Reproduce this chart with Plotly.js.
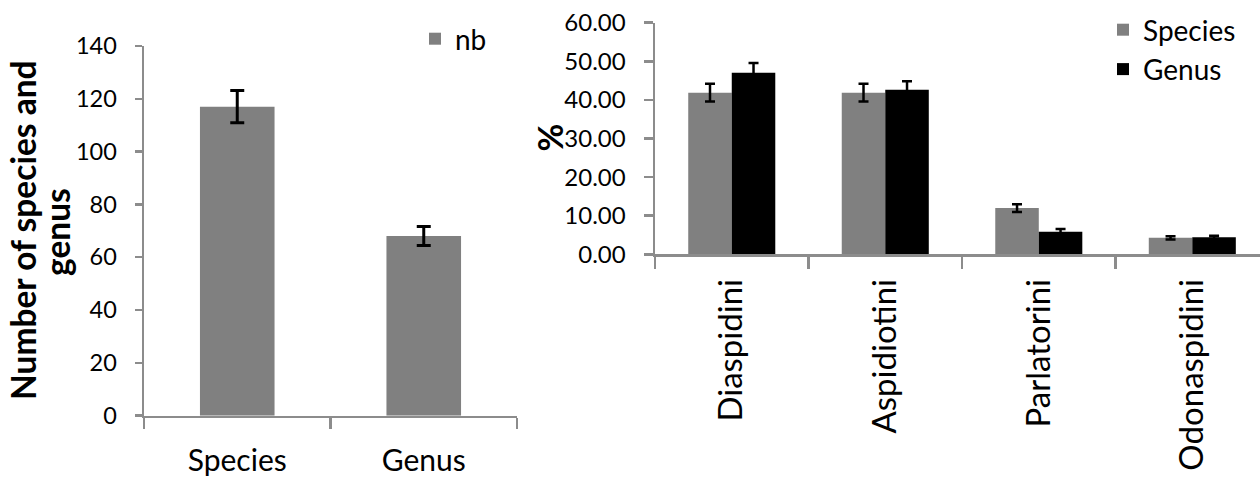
<!DOCTYPE html>
<html>
<head>
<meta charset="utf-8">
<script src="https://cdn.plot.ly/plotly-3.0.1.min.js"></script>
<style>html,body{margin:0;padding:0;background:#fff;}#chart{width:1260px;height:480px;}</style>
</head>
<body>
<div id="chart"></div>
<script>
// Left panel
const leftCategories = ["Species", "Genus"];
const leftValues = [117, 68];
const leftErrors = [6.1, 3.6];
const leftSeriesName = "nb";

// Right panel
const tribes = ["Diaspidini", "Aspidiotini", "Parlatorini", "Odonaspidini"];
const speciesPct = [41.88, 41.88, 11.97, 4.27];
const speciesErr = [2.3, 2.3, 1.0, 0.4];
const genusPct = [47.06, 42.65, 5.88, 4.41];
const genusErr = [2.5, 2.2, 0.7, 0.4];

const FONT = "Lato, 'Open Sans', sans-serif";
const GRAY = "#808080";
const AXIS = "#8c8c8c";

const traces = [
  {
    type: "bar", x: leftCategories, y: leftValues, name: leftSeriesName,
    xaxis: "x", yaxis: "y", width: 0.4, legend: "legend",
    marker: {color: GRAY},
    error_y: {type: "data", array: leftErrors, visible: true, color: "#000", thickness: 3, width: 7}
  },
  {
    type: "bar", x: tribes, y: speciesPct, name: "Species",
    xaxis: "x2", yaxis: "y2", legend: "legend2",
    marker: {color: GRAY},
    error_y: {type: "data", array: speciesErr, visible: true, color: "#000", thickness: 2.5, width: 5}
  },
  {
    type: "bar", x: tribes, y: genusPct, name: "Genus",
    xaxis: "x2", yaxis: "y2", legend: "legend2",
    marker: {color: "#000"},
    error_y: {type: "data", array: genusErr, visible: true, color: "#000", thickness: 2.5, width: 5}
  }
];

const axisCommon = {
  showline: true, linecolor: AXIS, linewidth: 2.5, showgrid: false, zeroline: false,
  ticks: "outside", tickcolor: AXIS, tickwidth: 2.5, fixedrange: true
};

const layout = {
  width: 1260, height: 480,
  margin: {l: 0, r: 0, t: 0, b: 0},
  paper_bgcolor: "#fff", plot_bgcolor: "#fff",
  font: {family: FONT, color: "#000"},
  barmode: "group", bargap: 0.433, bargroupgap: 0,
  showlegend: true,
  xaxis: Object.assign({}, axisCommon, {
    domain: [144/1260, 517/1260], anchor: "y", type: "category",
    tickson: "boundaries", ticklen: 11, ticklabelstandoff: 17,
    tickfont: {family: FONT, size: 30, color: "#000"}
  }),
  yaxis: Object.assign({}, axisCommon, {
    domain: [64.33/480, 434/480], anchor: "x", range: [0, 140], dtick: 20, tick0: 0,
    ticklen: 7, ticklabelstandoff: 13,
    tickfont: {family: FONT, size: 23.5, color: "#000"}
  }),
  xaxis2: Object.assign({}, axisCommon, {
    domain: [655/1260, 1], anchor: "y2", type: "category",
    range: [-0.5, 3.441],
    tickson: "boundaries", ticklen: 12, tickangle: -90, ticklabelstandoff: 9,
    tickfont: {family: FONT, size: 33, color: "#000"}
  }),
  yaxis2: Object.assign({}, axisCommon, {
    domain: [225.67/480, 457.33/480], anchor: "x2", range: [0, 60], dtick: 10, tick0: 0,
    tickformat: ".2f", ticklen: 9, ticklabelstandoff: 13,
    tickfont: {family: FONT, size: 24, color: "#000"}
  }),
  legend: {
    x: 415/1260, y: 466/480, xanchor: "left", yanchor: "top",
    bgcolor: "rgba(0,0,0,0)", font: {family: FONT, size: 28, color: "#000"}
  },
  legend2: {
    x: 1103/1260, y: 475/480, xanchor: "left", yanchor: "top",
    bgcolor: "rgba(0,0,0,0)", font: {family: FONT, size: 28, color: "#000"},
    traceorder: "normal"
  },
  annotations: [
    {text: "<b>Number of species and</b>", xref: "paper", yref: "paper",
     x: 23/1260, y: (480-230)/480, xanchor: "center", yanchor: "middle",
     textangle: -90, showarrow: false, font: {family: FONT, size: 33.5, color: "#000"}},
    {text: "<b>genus</b>", xref: "paper", yref: "paper",
     x: 57/1260, y: (480-232)/480, xanchor: "center", yanchor: "middle",
     textangle: -90, showarrow: false, font: {family: FONT, size: 33.5, color: "#000"}},
    {text: "<b>%</b>", xref: "paper", yref: "paper",
     x: 549/1260, y: (480-137.5)/480, xanchor: "center", yanchor: "middle",
     textangle: -90, showarrow: false, font: {family: FONT, size: 34, color: "#000"}}
  ]
};

Plotly.newPlot("chart", traces, layout, {staticPlot: true, displayModeBar: false});
</script>
</body>
</html>
